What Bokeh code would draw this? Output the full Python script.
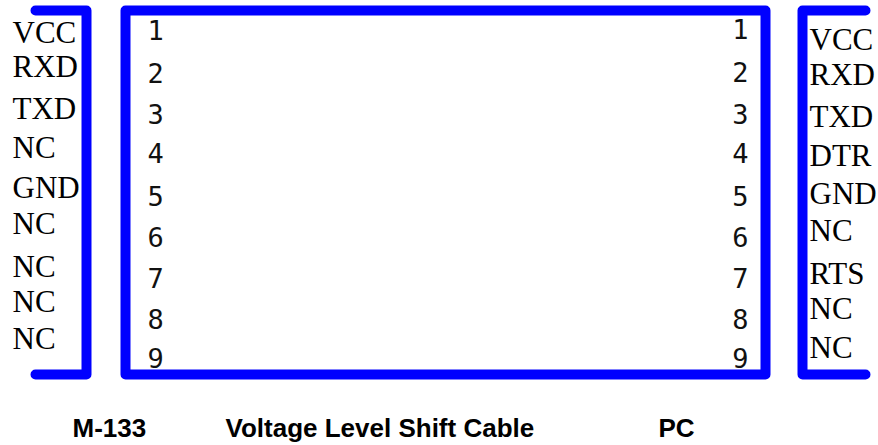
from bokeh.plotting import figure
from bokeh.models import Range1d
from bokeh.core.properties import value
from bokeh.embed import file_html
from bokeh.resources import INLINE

# ---- data ----
pin_numbers = ["1", "2", "3", "4", "5", "6", "7", "8", "9"]
m133_pins = ["VCC", "RXD", "TXD", "NC", "GND", "NC", "NC", "NC", "NC"]
pc_pins = ["VCC", "RXD", "TXD", "DTR", "GND", "NC", "RTS", "NC", "NC"]
captions = ["M-133", "Voltage Level Shift Cable", "PC"]

# ---- layout (reference-pixel coordinates, y grows downward) ----
left_label_y = [32, 66, 108, 147, 187, 223, 266, 301, 338]
right_label_y = [39, 74, 116, 155, 193, 230, 273, 308, 347]
left_num_y = [29, 72, 113, 152, 195, 236, 277, 318, 357]
right_num_y = [28, 71, 113, 152, 195, 236, 277, 318, 357]
caption_x = [72, 225, 658]
caption_y = 427

BLUE = "#0000FF"
LW = 10

p = figure(width=878, height=445, x_range=Range1d(0, 878), y_range=Range1d(445, 0),
           output_backend="svg", toolbar_location=None, min_border=0)
p.axis.visible = False
p.grid.visible = False
p.outline_line_color = None
p.background_fill_color = "white"
p.border_fill_color = "white"

# brackets and box
p.line([35, 86, 86, 35], [10, 10, 374, 374], line_color=BLUE, line_width=LW,
       line_join="round", line_cap="round")
p.line([865, 802, 802, 865], [10, 10, 374, 374], line_color=BLUE, line_width=LW,
       line_join="round", line_cap="round")
p.line([125, 765, 765, 125, 125, 765], [10, 10, 374, 374, 10, 10], line_color=BLUE,
       line_width=LW, line_join="round", line_cap="round")

lab_font = value("Liberation Serif")
num_font = value("DejaVu Sans Mono")

p.text(x=[12] * 9, y=left_label_y, text=m133_pins,
       text_font=lab_font, text_font_size="31px", text_color="black",
       text_baseline="alphabetic", text_align="left")
p.text(x=[809] * 9, y=right_label_y, text=pc_pins,
       text_font=lab_font, text_font_size="31px", text_color="black",
       text_baseline="alphabetic", text_align="left")
p.text(x=[147] * 9, y=left_num_y, text=pin_numbers,
       text_font=num_font, text_font_size="27px", text_color="#111111",
       text_baseline="alphabetic", text_align="left")
p.text(x=[748] * 9, y=right_num_y, text=pin_numbers,
       text_font=num_font, text_font_size="27px", text_color="#111111",
       text_baseline="alphabetic", text_align="right")
p.text(x=caption_x, y=[caption_y] * 3, text=captions,
       text_font=value("Liberation Sans"), text_font_size="26px",
       text_font_style="bold", text_color="black",
       text_baseline="alphabetic", text_align="left")

open("out.html", "w").write(file_html(p, INLINE))
